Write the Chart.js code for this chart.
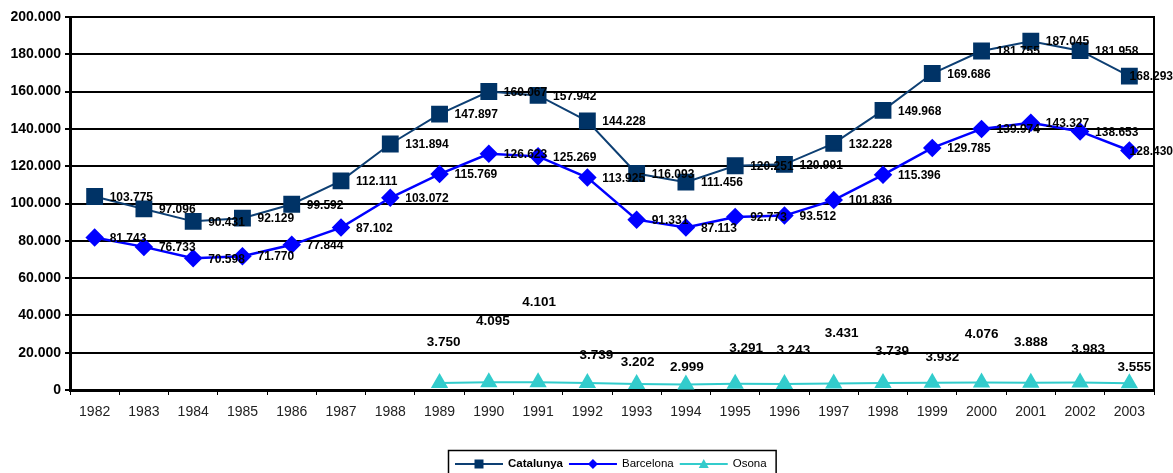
<!DOCTYPE html>
<html>
<head>
<meta charset="utf-8">
<script src="https://cdn.jsdelivr.net/npm/chart.js@4/dist/chart.umd.min.js"></script>
<style>
  html, body { margin: 0; padding: 0; background: #fff; }
  #wrap { width: 1173px; height: 473px; position: relative; }
</style>
</head>
<body>
<div id="wrap"><canvas id="chart"></canvas></div>
<script>
const years = ['1982','1983','1984','1985','1986','1987','1988','1989','1990','1991','1992',
               '1993','1994','1995','1996','1997','1998','1999','2000','2001','2002','2003'];

const catalunya = [103775, 97096, 90431, 92129, 99592, 112111, 131894, 147897, 160067, 157942, 144228,
                   116093, 111456, 120251, 120991, 132228, 149968, 169686, 181755, 187045, 181958, 168293];

const barcelona = [81743, 76733, 70598, 71770, 77844, 87102, 103072, 115769, 126623, 125269, 113925,
                   91331, 87113, 92773, 93512, 101836, 115396, 129785, 139974, 143327, 138653, 128430];

const osona = [null, null, null, null, null, null, null, 3750, 4095, 4101, 3739,
               3202, 2999, 3291, 3243, 3431, 3739, 3932, 4076, 3888, 3983, 3555];

const yTicks = [0, 20000, 40000, 60000, 80000, 100000, 120000, 140000, 160000, 180000, 200000];

// the Osona labels were moved by hand in the original, pixel nudges from the point
const osonaLabelDx = [0, 0, 0, 0, 0, 0, 0, 4, 4, 1, 9, 1, 1, 11, 9, 8, 9, 10, 0, 0, 8, 5];
const osonaLabelDy = [0, 0, 0, 0, 0, 0, 0, -41, -61, -80, -28, -22, -17, -36, -34, -50, -32, -25, -48, -40, -33, -16];

function fmt(v) {
    return String(v).replace(/\B(?=(\d{3})+(?!\d))/g, '.');
}

const FONT = '"Liberation Sans", Arial, sans-serif';

const valueLabels = {
    id: 'valueLabels',
    afterDatasetsDraw(chart) {
        const ctx = chart.ctx;
        ctx.save();
        ctx.fillStyle = '#000';
        ctx.textBaseline = 'middle';
        chart.data.datasets.forEach((ds, di) => {
            const meta = chart.getDatasetMeta(di);
            meta.data.forEach((pt, i) => {
                const v = ds.data[i];
                if (v === null || v === undefined) return;
                const txt = fmt(v);
                if (di === 2) {
                    ctx.font = 'bold 13.5px ' + FONT;
                    ctx.textAlign = 'center';
                    ctx.fillText(txt, pt.x + osonaLabelDx[i], pt.y + osonaLabelDy[i]);
                } else {
                    ctx.font = 'bold 12px ' + FONT;
                    ctx.textAlign = 'left';
                    const w = ctx.measureText(txt).width;
                    let x = pt.x + 15;
                    if (x + w > chart.width) x = chart.width - w;
                    ctx.fillText(txt, x, pt.y + 1);
                }
            });
        });
        ctx.restore();
    }
};

function drawMarker(ctx, style, x, y, r) {
    ctx.beginPath();
    if (style === 'rect') {
        ctx.rect(x - r, y - r, 2 * r, 2 * r);
    } else if (style === 'rectRot') {
        ctx.moveTo(x, y - r); ctx.lineTo(x + r, y); ctx.lineTo(x, y + r); ctx.lineTo(x - r, y);
        ctx.closePath();
    } else {
        ctx.moveTo(x, y - r); ctx.lineTo(x + r, y + r * 0.8); ctx.lineTo(x - r, y + r * 0.8);
        ctx.closePath();
    }
    ctx.fill();
}

const boxLegend = {
    id: 'boxLegend',
    afterDraw(chart) {
        const ctx = chart.ctx;
        const area = chart.chartArea;
        ctx.save();
        // right frame line of the plot
        ctx.strokeStyle = '#000';
        ctx.lineWidth = 2;
        ctx.beginPath();
        ctx.moveTo(area.right, area.top - 1);
        ctx.lineTo(area.right, area.bottom);
        ctx.stroke();

        const items = chart.data.datasets.map((ds, i) => ({
            text: ds.label,
            bold: i === 0,
            color: ds.borderColor,
            fill: ds.pointBackgroundColor,
            style: ds.pointStyle,
            r: i === 0 ? 4.5 : 5
        }));
        const lineLen = 48, pad = 7, gap = 5, after = 6;
        let total = pad;
        items.forEach(it => {
            ctx.font = (it.bold ? 'bold ' : '') + '11.5px ' + FONT;
            it.w = ctx.measureText(it.text).width;
            total += lineLen + gap + it.w + after;
        });
        total += 3;
        const cx = (area.left + area.right) / 2;
        let x = Math.round(cx - total / 2);
        const top = 450, midY = 464;
        ctx.lineWidth = 1.5;
        ctx.strokeStyle = '#000';
        ctx.strokeRect(x + 0.5, top + 0.5, total, 30);
        x += pad;
        items.forEach(it => {
            ctx.strokeStyle = it.color;
            ctx.lineWidth = 2;
            ctx.beginPath();
            ctx.moveTo(x, midY);
            ctx.lineTo(x + lineLen, midY);
            ctx.stroke();
            ctx.fillStyle = it.fill;
            drawMarker(ctx, it.style, x + lineLen / 2, midY, it.r);
            x += lineLen + gap;
            ctx.font = (it.bold ? 'bold ' : '') + '11.5px ' + FONT;
            ctx.fillStyle = '#000';
            ctx.textAlign = 'left';
            ctx.textBaseline = 'middle';
            ctx.fillText(it.text, x, midY);
            x += it.w + after;
        });
        ctx.restore();
    }
};

new Chart(document.getElementById('chart'), {
    type: 'line',
    data: {
        labels: years,
        datasets: [{
            label: 'Catalunya',
            data: catalunya,
            borderColor: '#0d3f73',
            backgroundColor: '#003366',
            pointBackgroundColor: '#003366',
            pointBorderColor: '#003366',
            borderWidth: 2,
            pointStyle: 'rect',
            pointRadius: 10.5,
            pointHoverRadius: 10.5,
            tension: 0
        }, {
            label: 'Barcelona',
            data: barcelona,
            borderColor: '#0000ff',
            backgroundColor: '#0000ff',
            pointBackgroundColor: '#0000ff',
            pointBorderColor: '#0000ff',
            borderWidth: 2.5,
            pointStyle: 'rectRot',
            pointRadius: 7.5,
            pointHoverRadius: 7.5,
            tension: 0
        }, {
            label: 'Osona',
            data: osona,
            borderColor: '#33cccc',
            backgroundColor: '#33cccc',
            pointBackgroundColor: '#33cccc',
            pointBorderColor: '#33cccc',
            borderWidth: 2,
            pointStyle: 'triangle',
            pointRadius: 8,
            pointHoverRadius: 8,
            tension: 0
        }]
    },
    options: {
        responsive: true,
        maintainAspectRatio: false,
        animation: false,
        events: [],
        layout: { padding: { top: 17, right: 19, left: 0, bottom: 0 } },
        plugins: {
            legend: { display: false },
            tooltip: { enabled: false },
            title: { display: false }
        },
        scales: {
            x: {
                offset: true,
                grid: { offset: true, drawOnChartArea: false, tickLength: 5, color: '#000', lineWidth: 1 },
                border: { color: '#000', width: 3 },
                ticks: { font: { family: FONT, size: 14 }, color: '#222', padding: 9, maxRotation: 0, autoSkip: false },
                afterFit: s => { s.height = 83; }
            },
            y: {
                min: 0,
                max: 200000,
                afterBuildTicks: s => { s.ticks = yTicks.map(v => ({ value: v })); },
                grid: { color: '#000', lineWidth: 2, tickLength: 5 },
                border: { color: '#000', width: 3 },
                ticks: {
                    font: { family: FONT, size: 14, weight: 'bold' },
                    color: '#000',
                    padding: 4,
                    callback: v => fmt(v)
                },
                afterFit: s => { s.width = 70; }
            }
        }
    },
    plugins: [valueLabels, boxLegend]
});
</script>
</body>
</html>
